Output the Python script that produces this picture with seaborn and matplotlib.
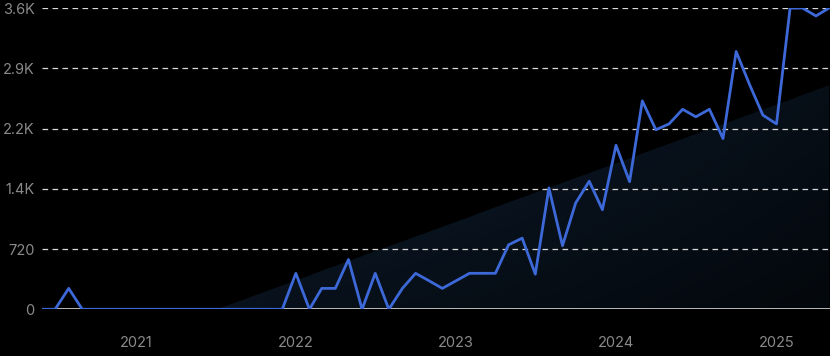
import numpy as np
import pandas as pd
import matplotlib
matplotlib.use("Agg")
import matplotlib.pyplot as plt
import matplotlib.dates as mdates
import seaborn as sns

# ---- data ----
months = pd.date_range("2020-06-01", "2025-05-01", freq="MS")
values = [
    0, 0, 250, 0, 0, 0, 0,                                              # 2020 Jun-Dec
    0, 0, 0, 0, 0, 0, 0, 0, 0, 0, 0, 0,                                 # 2021
    430, 0, 250, 250, 595, 0, 430, 0, 250, 430, 340, 250,               # 2022
    340, 430, 430, 430, 770, 850, 420, 1450, 760, 1270, 1530, 1190,     # 2023
    1960, 1525, 2490, 2145, 2215, 2390, 2300, 2390, 2040, 3080, 2680, 2320,  # 2024
    2215, 3600, 3600, 3505, 3600,                                       # 2025 Jan-May
]
y_ticks = [0, 720, 1440, 2160, 2880, 3600]
y_tick_labels = ["0", "720", "1.4K", "2.2K", "2.9K", "3.6K"]
x_tick_years = ["2021", "2022", "2023", "2024", "2025"]

df = pd.DataFrame({"month": months, "value": values})

# ---- style ----
sns.set_theme(style="dark")
plt.rcParams["font.family"] = ["Inter", "DejaVu Sans"]

BG = "#000000"
LINE = "#3d68d8"
TICK = "#8a8a8a"

fig = plt.figure(figsize=(8.30, 3.56), dpi=100, facecolor=BG)
ax = fig.add_axes([41.5 / 830, 1 - 309.3 / 356, (830 - 41.5) / 830, (309.3 - 8) / 356])
ax.set_facecolor(BG)

# trend (linear regression) filled area, positive part only
xi = np.arange(len(values))
slope, intercept = np.polyfit(xi, np.array(values, dtype=float), 1)
xnum = mdates.date2num(months)
# fine sampling so clipping at zero is precise
xs_idx = np.linspace(0, len(values) - 1, 600)
xs_num = np.interp(xs_idx, xi, xnum)
trend = np.clip(intercept + slope * xs_idx, 0, None)
poly = ax.fill_between(xs_num, 0, trend, color="none", lw=0, zorder=1)

# gradient image for the trend area
H, W = 200, 400
u = np.linspace(0, 1, W)[None, :]
v = np.linspace(0, 1, H)[:, None]   # 0 at top
alpha = 0.95 * (1 - 0.55 * u) * (1 - 0.45 * v)
rgba = np.zeros((H, W, 4))
rgba[..., 0] = 0x10 / 255
rgba[..., 1] = 0x22 / 255
rgba[..., 2] = 0x36 / 255
rgba[..., 3] = alpha
x_zero = xs_num[np.argmax(trend > 0)]
img = ax.imshow(rgba, extent=[x_zero, xnum[-1], 0, trend.max()], aspect="auto",
                origin="upper", zorder=1, interpolation="bilinear")
img.set_clip_path(poly.get_paths()[0], transform=ax.transData)

# grid lines
for t in y_ticks[1:]:
    ax.axhline(t, color="#d8d8d8", lw=0.9, ls=(0, (4.5, 3.5)), zorder=2)
ax.axhline(0, color="#c8c8c8", lw=1.3, zorder=2)

sns.lineplot(data=df, x="month", y="value", ax=ax, color=LINE, lw=2.0, zorder=3)

ax.set_xlim(xnum[0] - 1, xnum[-1] + 2)
ax.set_ylim(0, 3600)
ax.set_yticks(y_ticks)
ax.set_yticklabels(y_tick_labels)
ax.set_xticks([mdates.date2num(pd.Timestamp(f"{y}-01-01")) for y in x_tick_years])
ax.set_xticklabels(x_tick_years)
ax.tick_params(axis="both", length=0, colors=TICK, labelsize=10.5)
ax.tick_params(axis="y", pad=5)
ax.tick_params(axis="x", pad=19)
ax.set_xlabel("")
ax.set_ylabel("")
ax.grid(False)
for s in ax.spines.values():
    s.set_visible(False)

fig.savefig("out.png", dpi=100, facecolor=BG)
